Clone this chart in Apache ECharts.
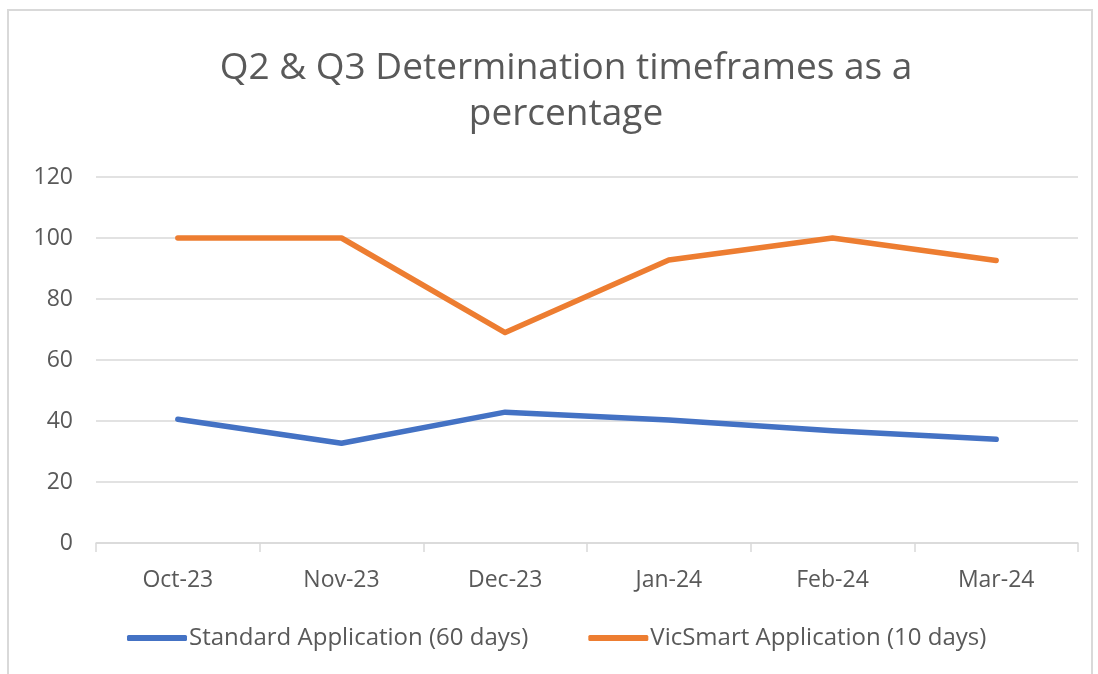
<!DOCTYPE html>
<html>
<head>
<meta charset="utf-8">
<script src="https://cdn.jsdelivr.net/npm/echarts@6/dist/echarts.min.js"></script>
<style>
  html, body { margin: 0; padding: 0; background: #fff; }
  #chart { width: 1098px; height: 674px; }
</style>
</head>
<body>
<div id="chart"></div>
<script>
// data
const months = ['Oct-23', 'Nov-23', 'Dec-23', 'Jan-24', 'Feb-24', 'Mar-24']
const standardApp = [40.6, 32.7, 42.9, 40.3, 36.8, 34.0]
const vicSmartApp = [100, 100, 69.0, 92.8, 100, 92.6]
const yTicks = [0, 20, 40, 60, 80, 100, 120]

const textColor = '#595959'
const fontFamily = '"Open Sans", "Liberation Sans", sans-serif'

const chart = echarts.init(document.getElementById('chart'))

const option = {
  animation: false,
  backgroundColor: '#fff',
  textStyle: { fontFamily: fontFamily },
  graphic: [
    {
      type: 'rect',
      shape: { x: 8, y: 10, width: 1084, height: 668 },
      style: { fill: 'none', stroke: '#d9d9d9', lineWidth: 2 },
      silent: true
    }
  ],
  title: {
    text: 'Q2 & Q3 Determination timeframes as a\npercentage',
    left: 561,
    top: 40,
    textAlign: 'center',
    textStyle: {
      color: textColor,
      fontSize: 37,
      fontWeight: 'normal',
      lineHeight: 46,
      fontFamily: fontFamily
    }
  },
  legend: {
    data: ['Standard Application (60 days)', 'VicSmart Application (10 days)'],
    left: 122,
    top: 621,
    icon: 'roundRect',
    itemWidth: 60,
    itemHeight: 6,
    itemGap: 60,
    textStyle: { color: textColor, fontSize: 24, padding: [0, 0, 0, -3] }
  },
  grid: {
    left: 96,
    right: 20,
    top: 177,
    bottom: 131,
    containLabel: false
  },
  xAxis: {
    type: 'category',
    data: months,
    boundaryGap: true,
    axisLine: { lineStyle: { color: '#d9d9d9', width: 1.5 } },
    axisTick: { show: true, length: 9, alignWithLabel: false, lineStyle: { color: '#d9d9d9', width: 1.5 } },
    axisLabel: { color: textColor, fontSize: 23, margin: 26 }
  },
  yAxis: {
    type: 'value',
    min: yTicks[0],
    max: yTicks[yTicks.length - 1],
    interval: 20,
    axisLine: { show: false },
    axisTick: { show: false },
    axisLabel: { color: textColor, fontSize: 23, margin: 23 },
    splitLine: { lineStyle: { color: '#d9d9d9', width: 1.5 } }
  },
  series: [
    {
      name: 'Standard Application (60 days)',
      type: 'line',
      data: standardApp,
      showSymbol: false,
      symbol: 'none',
      color: '#4472C4',
      lineStyle: { width: 5.5, cap: 'round', join: 'round' }
    },
    {
      name: 'VicSmart Application (10 days)',
      type: 'line',
      data: vicSmartApp,
      showSymbol: false,
      symbol: 'none',
      color: '#ED7D31',
      lineStyle: { width: 5.5, cap: 'round', join: 'round' }
    }
  ]
}

chart.setOption(option)
</script>
</body>
</html>
